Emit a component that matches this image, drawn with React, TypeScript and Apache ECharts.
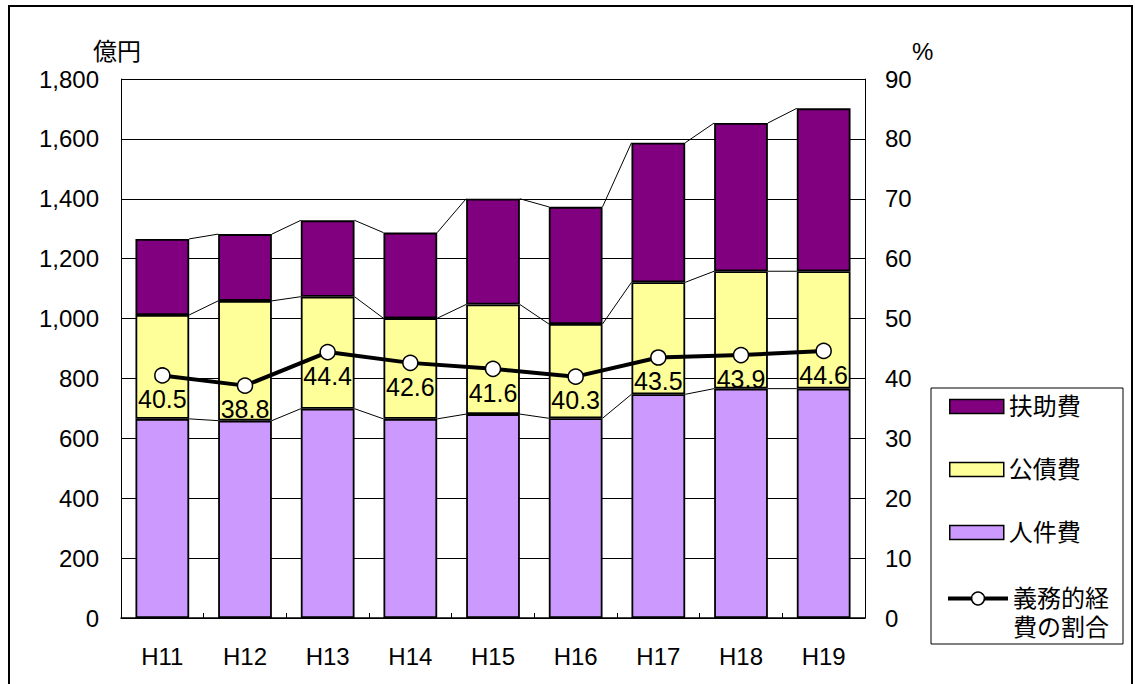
import React, { useEffect, useRef } from "react";
import * as echarts from "echarts";

const categories = ["H11", "H12", "H13", "H14", "H15", "H16", "H17", "H18", "H19"];
const personnel = [665, 659, 699, 665, 681, 667, 747, 766, 766];
const publicDebt = [347, 400, 374, 336, 366, 315, 374, 392, 392];
const assistance = [254, 223, 255, 286, 353, 391, 466, 495, 544];
const ratio = [40.5, 38.8, 44.4, 42.6, 41.6, 40.3, 43.5, 43.9, 44.6];

const FONT = "'Liberation Sans', Arial, 'Noto Sans CJK JP', sans-serif";
const BAR_PCT = 0.65;

export default function App() {
  const ref = useRef<HTMLDivElement>(null);
  useEffect(() => {
    if (!ref.current) return;
    const chart = echarts.init(ref.current, undefined, { renderer: "svg" });
    const c1 = personnel.map((v) => v);
    const c2 = personnel.map((v, i) => v + publicDebt[i]);
    const c3 = c2.map((v, i) => v + assistance[i]);
    const linkData: number[][] = [];
    for (let i = 0; i < categories.length - 1; i++) {
      linkData.push([i, c1[i], c2[i], c3[i], c1[i + 1], c2[i + 1], c3[i + 1]]);
    }
    const barBase = {
      type: "bar",
      stack: "total",
      barWidth: "65%",
      yAxisIndex: 0,
      itemStyle: { borderColor: "#000", borderWidth: 1.8 },
      emphasis: { disabled: true },
    };
    chart.setOption({
      animation: false,
      textStyle: { fontFamily: FONT },
      grid: { left: 121, right: 270, top: 79, bottom: 66 },
      graphic: [
        {
          type: "rect",
          z: 0,
          shape: { x: 9, y: 6, width: 1123, height: 720 },
          style: { fill: "none", stroke: "#000", lineWidth: 2 },
        },
        {
          type: "rect",
          z: 0,
          shape: { x: 931, y: 388, width: 192, height: 256 },
          style: { fill: "#fff", stroke: "#000", lineWidth: 1 },
        },
      ],
      legend: [
        {
          data: ["扶助費", "公債費", "人件費"],
          orient: "vertical",
          left: 949,
          top: 392,
          padding: 0,
          itemGap: 34,
          itemWidth: 54,
          itemHeight: 14,
          icon: "rect",
          selectedMode: false,
          itemStyle: { borderColor: "#000", borderWidth: 1.5 },
          textStyle: { fontSize: 24, lineHeight: 29, color: "#000", fontFamily: FONT },
        },
        {
          data: ["義務的経費の割合"],
          orient: "vertical",
          left: 946,
          top: 555,
          padding: 0,
          itemWidth: 60,
          itemHeight: 16,
          selectedMode: false,
          lineStyle: { color: "#000", width: 4 },
          itemStyle: { color: "#fff", borderColor: "#000", borderWidth: 1.5 },
          formatter: () => "\n義務的経\n費の割合",
          textStyle: {
            fontSize: 24,
            lineHeight: 29,
            color: "#000",
            fontFamily: FONT,
          },
        },
      ],
      xAxis: {
        type: "category",
        data: categories,
        axisLine: { lineStyle: { color: "#000", width: 1.5 } },
        axisTick: { show: true, inside: true, length: 5, lineStyle: { color: "#000" } },
        axisLabel: { color: "#000", fontSize: 24, margin: 26, fontFamily: FONT },
      },
      yAxis: [
        {
          type: "value",
          min: 0,
          max: 1800,
          interval: 200,
          name: "億円",
          nameLocation: "end",
          nameGap: 16,
          nameTextStyle: { color: "#000", fontSize: 24, fontFamily: FONT, padding: [0, 8, 0, 0] },
          axisLine: { show: true, lineStyle: { color: "#000", width: 1 } },
          axisTick: { show: false },
          axisLabel: {
            color: "#000",
            fontSize: 24,
            margin: 22,
            fontFamily: FONT,
            formatter: (v: number) => v.toLocaleString("en-US"),
          },
          splitLine: { show: true, lineStyle: { color: "#000", width: 1 } },
        },
        {
          type: "value",
          min: 0,
          max: 90,
          interval: 10,
          position: "right",
          name: "%",
          nameLocation: "end",
          nameGap: 16,
          nameTextStyle: { color: "#000", fontSize: 24, fontFamily: FONT, align: "left", padding: [0, 0, 0, 47] },
          axisLine: { show: true, lineStyle: { color: "#000", width: 1 } },
          axisTick: { show: false },
          axisLabel: { color: "#000", fontSize: 24, margin: 20, fontFamily: FONT },
          splitLine: { show: false },
        },
      ],
      series: [
        { ...barBase, name: "人件費", data: personnel, itemStyle: { ...barBase.itemStyle, color: "#CC99FF" } },
        { ...barBase, name: "公債費", data: publicDebt, itemStyle: { ...barBase.itemStyle, color: "#FFFF99" } },
        { ...barBase, name: "扶助費", data: assistance, itemStyle: { ...barBase.itemStyle, color: "#800080" } },
        {
          type: "custom",
          name: "links",
          yAxisIndex: 0,
          data: linkData,
          encode: { x: 0, y: 1 },
          silent: true,
          z: 1,
          renderItem: (params: any, api: any) => {
            const i = api.value(0);
            const half = (api.size([1, 0])[0] * BAR_PCT) / 2;
            const children = [] as any[];
            for (let k = 1; k <= 3; k++) {
              const p0 = api.coord([i, api.value(k)]);
              const p1 = api.coord([i + 1, api.value(k + 3)]);
              children.push({
                type: "line",
                shape: { x1: p0[0] + half, y1: p0[1], x2: p1[0] - half, y2: p1[1] },
                style: { stroke: "#000", lineWidth: 1 },
              });
            }
            return { type: "group", children };
          },
        },
        {
          type: "line",
          name: "義務的経費の割合",
          yAxisIndex: 1,
          data: ratio,
          z: 5,
          symbol: "circle",
          symbolSize: 15,
          lineStyle: { color: "#000", width: 4 },
          itemStyle: { color: "#fff", borderColor: "#000", borderWidth: 1.5 },
          emphasis: { disabled: true },
          label: {
            show: true,
            position: "bottom",
            distance: 3,
            color: "#000",
            fontSize: 25,
            fontFamily: FONT,
            formatter: (p: any) => p.value.toFixed(1),
          },
        },
      ],
    });
    return () => chart.dispose();
  }, []);
  return (
    <div
      ref={ref}
      style={{ position: "fixed", left: 0, top: 0, width: 1135, height: 684, background: "#fff" }}
    />
  );
}
